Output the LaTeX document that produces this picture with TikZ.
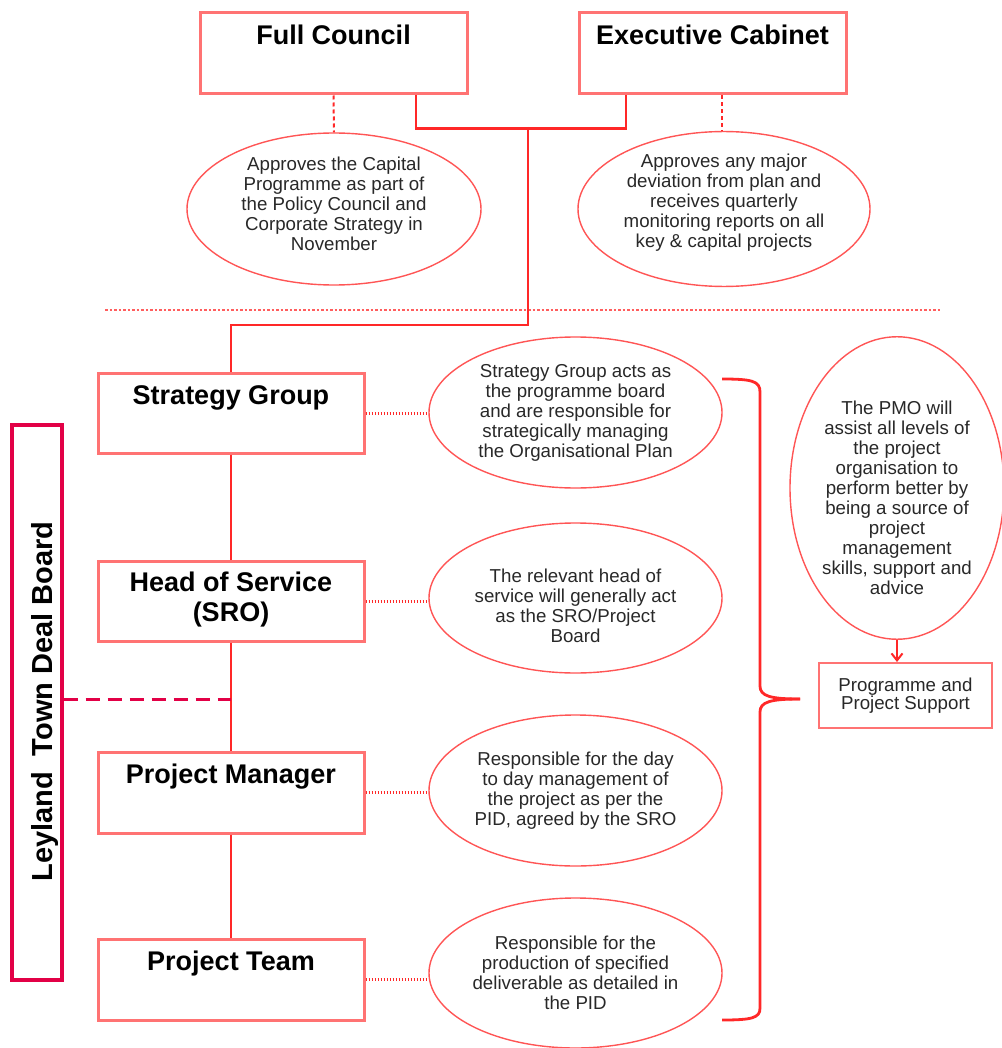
\documentclass[tikz,border=0pt]{standalone}
\usepackage{fontspec}
\setmainfont{Liberation Sans}
\usetikzlibrary{shapes.geometric,arrows.meta}
\definecolor{boxred}{RGB}{255,115,115}
\definecolor{linered}{RGB}{255,40,40}
\definecolor{ellred}{RGB}{255,85,85}
\definecolor{crim}{RGB}{226,0,70}
\definecolor{txt}{RGB}{40,40,40}
\tikzset{
  orgbox/.style={draw=boxred, line width=3pt, minimum width=266pt, minimum height=80pt, inner sep=0pt},
  titletext/.style={font=\fontsize{27}{30}\selectfont\bfseries, text=black, inner sep=0pt, align=center},
  note/.style={ellipse, draw=ellred, line width=1.4pt, inner sep=0pt, align=center, text=txt, font=\fontsize{18.7}{20}\selectfont},
  link/.style={draw=linered, line width=2.6pt},
  dotlink/.style={draw=linered, line width=3pt, dash pattern=on 1.5pt off 1.5pt},
  dashlink/.style={draw=linered, line width=2pt, dash pattern=on 4pt off 3pt},
  sepline/.style={draw=linered!75, line width=1.2pt, dash pattern=on 2.5pt off 2pt},
  boardline/.style={draw=crim, line width=3pt, dash pattern=on 14pt off 8pt},
}
\begin{document}
\begin{tikzpicture}[x=1pt,y=-1pt]
\useasboundingbox (0,0) rectangle (1001,1048);

% top boxes
\node[orgbox, minimum width=267pt, minimum height=81pt] (fc) at (333.5,53.5) {};
\node[titletext, anchor=base] (fct) at (333.5,45) {Full Council};
\node[orgbox, minimum width=267pt, minimum height=81pt] (ec) at (712.5,53.5) {};
\node[titletext, anchor=base] (ect) at (712.5,45) {Executive Cabinet};

% top ellipses
\node[note, minimum width=294pt, minimum height=152pt] (e1) at (334,209)
  {Approves the Capital\\Programme as part of\\the Policy Council and\\Corporate Strategy in\\November\rule[-10pt]{0pt}{1pt}};
\node[note, minimum width=292pt, minimum height=152pt] (e2) at (724,209)
  {Approves any major\\deviation from plan and\\receives quarterly\\monitoring reports on all\\key \& capital projects\rule[-16pt]{0pt}{1pt}};

% separator
\coordinate (sepL) at (105,310);
\coordinate (sepR) at (940,310);
\draw[sepline] (sepL) -- (sepR);

% left column boxes
\node[orgbox] (sg) at (231,413) {};
\node[titletext, anchor=base] (sgt) at (231,404) {Strategy Group};
\node[orgbox] (hos) at (231,601) {};
\node[titletext] (host) at (231,600) {Head of Service\\(SRO)};
\node[orgbox, minimum height=81pt] (pm) at (231,792.5) {};
\node[titletext, anchor=base] (pmt) at (231,783) {Project Manager};
\node[orgbox, minimum height=81pt] (pt) at (231,979.5) {};
\node[titletext, anchor=base] (ptt) at (231,970) {Project Team};

% Leyland board
\node[draw=crim, line width=3.2pt, minimum width=50pt, minimum height=555pt, inner sep=0pt] (ley) at (37,702.5) {};
\node[rotate=90, anchor=base, inner sep=0pt, font=\fontsize{29}{32}\selectfont\bfseries, text=black] (leyt) at (52,701.5) {Leyland\ \ Town Deal Board};

% right ellipses
\node[note, minimum width=293pt, minimum height=151pt] (e3) at (575.5,412.5)
  {Strategy Group acts as\\the programme board\\and are responsible for\\strategically managing\\the Organisational Plan};
\node[note, minimum width=293pt, minimum height=150pt] (e4) at (575.5,598)
  {\rule{0pt}{29.7pt}The relevant head of\\service will generally act\\as the SRO/Project\\Board};
\node[note, minimum width=293pt, minimum height=151pt] (e5) at (575.5,790.5)
  {Responsible for the day\\to day management of\\the project as per the\\PID, agreed by the SRO};
\node[note, minimum width=293pt, minimum height=150pt] (e6) at (575.5,973)
  {Responsible for the\\production of specified\\deliverable as detailed in\\the PID};

% PMO
\node[note, minimum width=214pt, minimum height=267pt] (pmo) at (897,488)
  {\rule{0pt}{33.7pt}The PMO will\\assist all levels of\\the project\\organisation to\\perform better by\\being a source of\\project\\management\\skills, support and\\advice};
\node[draw=boxred, line width=2pt, minimum width=173pt, minimum height=65pt, inner sep=0pt, align=center, text=txt, font=\fontsize{18.7}{18.5}\selectfont] (ps) at (905.5,695.5)
  {Programme and\\Project Support};

% connectors top
\coordinate (j) at (528,127);
\draw[link] ([xshift=82.5pt]fc.south) -- ++(0,33) -| ([xshift=-86.5pt]ec.south);
\draw[link] (j) -- ++(0,198) -| (sg.north);
\draw[dashlink] (fc.south) -- (e1.north);
\draw[dashlink] ([xshift=-2pt]e2.north |- ec.south) -- ([xshift=-2pt]e2.north);

% column
\draw[link] (sg.south) -- (hos.north);
\draw[link] (hos.south) -- (pm.north);
\draw[link] (pm.south) -- (pt.north);

% dotted links
\draw[dotlink] (sg.east) -- (sg.east -| e3.west);
\draw[dotlink] (hos.east) -- (hos.east -| e4.west);
\draw[dotlink] (pm.east) -- (pm.east -| e5.west);
\draw[dotlink] (pt.east) -- (pt.east -| e6.west);

% board dashed
\coordinate (dl) at (231,699);
\draw[boardline] (dl -| ley.east) -- (dl);

% brace
\coordinate (bt) at (722,379);
\coordinate (bb) at (722,1020);
\coordinate (btip) at (800,699);
\draw[link, line width=2.8pt] (bt) .. controls (752,379) and (760,381) .. (760,392) -- (760,686) .. controls (760,696) and (770,699) .. (btip);
\draw[link, line width=2.8pt] (btip) .. controls (770,699) and (760,702) .. (760,712) -- (760,1008) .. controls (760,1018) and (752,1020) .. (bb);

% arrow
\draw[link, line width=2pt, -{Straight Barb[length=7pt,width=11pt]}] (pmo.south) -- (pmo.south |- ps.north);
\end{tikzpicture}
\end{document}
